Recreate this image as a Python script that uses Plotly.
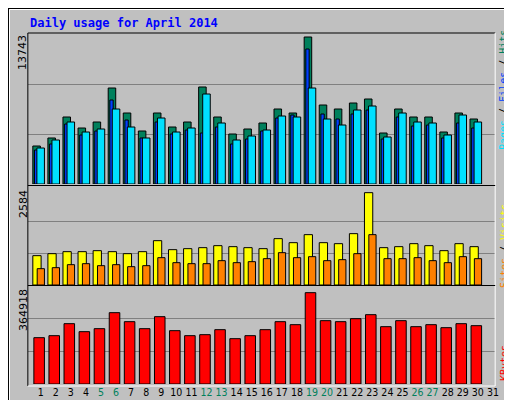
import plotly.graph_objects as go

days = list(range(1, 31))
hits_y = [138,130,109,120,114,80,105,123,105,119,114,79,109,126,121,115,101,105,29,97,101,95,91,125,101,109,109,124,105,111]
pages_y = [140,132,114,124,121,101,119,130,110,124,120,86,115,132,128,122,108,109,80,111,117,102,98,129,105,114,115,127,107,114]
files_y = [142,136,116,127,123,92,112,130,114,126,122,125,119,136,131,123,110,107,41,106,111,106,102,131,109,118,117,130,115,120]
hits = [round((176 - v) * 13743 / 147) for v in hits_y]
pages = [round((176 - v) * 13743 / 147) for v in pages_y]
files = [round((176 - v) * 13743 / 147) for v in files_y]
visits_y = [232,226,220,220,217,220,226,220,187,214,211,208,202,205,208,211,181,193,169,193,196,166,43,208,205,196,202,217,196,205]
sites_y = [271,268,259,256,262,259,265,262,238,253,256,256,247,253,250,241,223,238,235,247,244,226,169,241,241,238,247,253,235,241]
visits = [round((320 - v) * 2584 / 277) for v in visits_y]
sites = [round((320 - v) * 2584 / 277) for v in sites_y]
kb_y = [478,472,436,460,451,403,430,451,415,457,472,469,454,481,472,454,430,439,343,427,430,421,409,445,427,445,439,448,436,442]
kbytes = [round((617 - v) * 364918 / 274) for v in kb_y]
weekend = [5, 6, 12, 13, 19, 20, 26, 27]
xlabels = [str(d) for d in range(1, 32)]

fig = go.Figure()
ln = dict(color="black", width=1)
def bar(y, color, off, w, xa, ya):
    fig.add_trace(go.Bar(x=days, y=y, marker=dict(color=color, line=ln), offset=off, width=w,
                         xaxis=xa, yaxis=ya, showlegend=False))
bar(hits, "#00805c", -0.17, 0.5, "x", "y")
bar(files, "#0040ff", -0.06, 0.22, "x", "y")
bar(pages, "#00e0ff", 0.1, 0.5, "x", "y")
bar(visits, "#ffff00", -0.17, 0.55, "x2", "y2")
bar(sites, "#ff8000", 0.12, 0.48, "x2", "y2")
bar(kbytes, "#ff0000", -0.1, 0.7, "x3", "y3")

def px(p): return 1 - p / 400
xr = [0.5, 31.5]
xd = [20 / 512, 491 / 512]
ticktext = [f'<span style="color:#00805c">{d}</span>' if int(d) in weekend else d for d in xlabels]
common_x = dict(range=xr, domain=xd, showgrid=False, zeroline=False, fixedrange=True)
fig.update_layout(
    width=512, height=400, margin=dict(l=0, r=0, t=0, b=0),
    paper_bgcolor="#c0c0c0", plot_bgcolor="#c0c0c0", barmode="overlay",
    font=dict(family="DejaVu Sans", size=11, color="black"),
    xaxis=dict(common_x, showticklabels=False, anchor="y"),
    xaxis2=dict(common_x, showticklabels=False, anchor="y2"),
    xaxis3=dict(common_x, anchor="y3", tickvals=[d + 0.35 for d in range(1, 32)], ticktext=ticktext,
                ticks="", tickangle=0, tickfont=dict(size=10.5, family="DejaVu Sans Condensed")),
    yaxis=dict(domain=[px(176), px(26)], range=[0, 13743 * 150 / 147], tickvals=[13743 * 50 / 147, 13743 * 100 / 147],
               showticklabels=False, gridcolor="#808080", zeroline=False),
    yaxis2=dict(domain=[px(277), px(182)], range=[0, 2584 * 285 / 277], tickvals=[2584 * 95 / 277, 2584 * 190 / 277],
                showticklabels=False, gridcolor="#808080", zeroline=False),
    yaxis3=dict(domain=[px(376), px(278)], range=[0, 364918 * 294 / 274], tickvals=[364918 * 98 / 274, 364918 * 196 / 274],
                showticklabels=False, gridcolor="#808080", zeroline=False),
)
shapes = []
def line(x0, y0, x1, y1, c, w=1):
    shapes.append(dict(type="line", xref="paper", yref="paper", x0=x0 / 512, y0=px(y0), x1=x1 / 512, y1=px(y1),
                       line=dict(color=c, width=w)))
line(0, 0.5, 511, 0.5, "black", 1); line(0.5, 0, 0.5, 400, "black", 1)
line(1.5, 1.5, 508, 1.5, "white", 1); line(1.5, 1.5, 1.5, 396, "white", 1)
line(507, 2, 507, 397, "#808080", 3); line(2, 396, 508, 396, "#808080", 3)
line(510.5, 0, 510.5, 400, "black", 1); line(0, 399.5, 512, 399.5, "black", 1)
line(20, 25, 491, 25, "black"); line(20, 25, 20, 378, "black")
line(491, 25, 491, 378, "white"); line(20, 378, 491, 378, "white")
line(20, 177.5, 491, 177.5, "black"); line(20, 277.5, 491, 277.5, "black")
fig.update_layout(shapes=shapes)

ann = [
    dict(text="<b>Daily usage for April 2014</b>", x=20 / 512, y=px(15), xanchor="left", yanchor="middle",
         font=dict(family="DejaVu Sans Mono", size=12, color="#0000ff")),
    dict(text="13743", x=15 / 512, y=px(44), textangle=-90, xanchor="center", yanchor="middle"),
    dict(text="2584", x=15 / 512, y=px(196), textangle=-90, xanchor="center", yanchor="middle"),
    dict(text="364918", x=15 / 512, y=px(302), textangle=-90, xanchor="center", yanchor="middle"),
    dict(text='<span style="color:#00e0ff">Pages</span> / <span style="color:#0040ff">Files</span> / <span style="color:#00805c">Hits</span>',
         x=500 / 512, y=px(82), textangle=-90, xanchor="center", yanchor="middle",
         font=dict(family="DejaVu Sans Mono", size=10)),
    dict(text='<span style="color:#ff8000">Sites</span> / <span style="color:#ffff00">Visits</span>',
         x=500 / 512, y=px(238), textangle=-90, xanchor="center", yanchor="middle",
         font=dict(family="DejaVu Sans Mono", size=10)),
    dict(text='<span style="color:#ff0000">KBytes</span>',
         x=500 / 512, y=px(355), textangle=-90, xanchor="center", yanchor="middle",
         font=dict(family="DejaVu Sans Mono", size=10)),
]
for a in ann:
    a.setdefault("xref", "paper"); a.setdefault("yref", "paper"); a["showarrow"] = False
fig.update_layout(annotations=ann)
fig.write_html("out.html")
